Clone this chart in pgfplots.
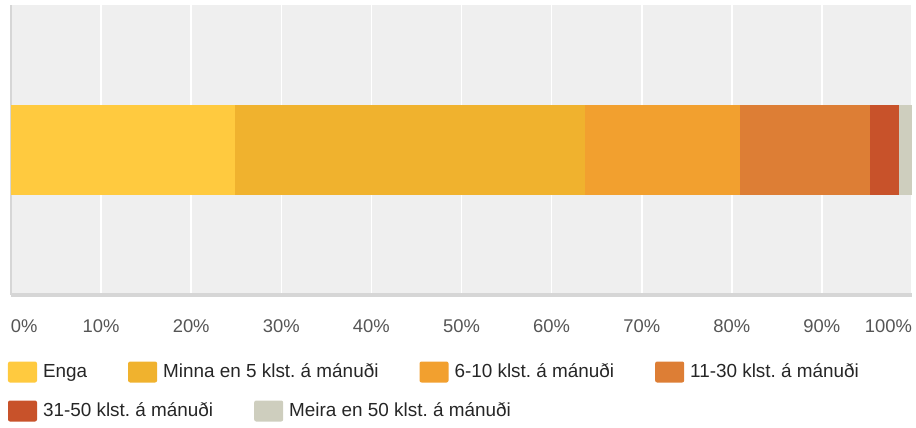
\documentclass[border=0pt]{standalone}
\usepackage{fontspec}
\setmainfont{Liberation Sans}
\usepackage{pgfplots}
\pgfplotsset{compat=1.18}
\definecolor{cA}{HTML}{FFCA3F}
\definecolor{cB}{HTML}{F0B22E}
\definecolor{cC}{HTML}{F2A02F}
\definecolor{cD}{HTML}{DD7E35}
\definecolor{cE}{HTML}{C8522A}
\definecolor{cF}{HTML}{CECEBE}
\definecolor{bg}{HTML}{EFEFEF}
\definecolor{bord}{HTML}{D6D6D6}
\definecolor{tick}{HTML}{555555}
\frenchspacing
\pgfplotsset{
  swatch/.style={every axis plot post/.append style={
    legend image code/.code={\fill[##1, draw=none, rounded corners=1pt] (0pt,-5.25pt) rectangle (14.5pt,5.25pt);}}},
  legrow/.style={legend columns=-1, legend cell align=left,
    legend style={draw=none, fill=none, inner sep=0pt, outer sep=0pt,
      font=\fontsize{9.45}{11}\selectfont, text=black!85,
      column sep=3pt, nodes={inner sep=0pt},
      /tikz/every even column/.append style={column sep=20.5pt},
      at={(0,0)}, anchor=west, xshift=-1.5pt, yshift=#1}},
}
\begin{document}
\begin{tikzpicture}
\begin{axis}[
  at={(0,0)}, anchor=south west,
  scale only axis, width=450.5pt, height=145pt,
  xbar stacked, bar width=45pt,
  xmin=0, xmax=100, ymin=-1, ymax=1,
  ytick=\empty,
  xtick={0,10,...,100},
  xticklabels={\makebox[0pt][l]{0\%},10\%,20\%,30\%,40\%,50\%,60\%,70\%,80\%,90\%,\makebox[0pt][r]{100\%}},
  major tick length=0pt,
  xticklabel style={font=\fontsize{9.2}{11}\selectfont, text=tick},
  xticklabel shift=9pt,
  xmajorgrids, grid style={white, line width=0.8pt},
  axis background/.style={fill=bg},
  axis lines*=left,
  x axis line style={draw=bord, line width=1.6pt},
  y axis line style={draw=bord, line width=1pt},
  swatch, legrow=-38.5pt,
]
\addplot[fill=cA, draw=none] coordinates {(24.9,0)};
\addlegendentry{Enga}
\addplot[fill=cB, draw=none] coordinates {(38.8,0)};
\addlegendentry{Minna en 5 klst. á mánuði}
\addplot[fill=cC, draw=none] coordinates {(17.2,0)};
\addlegendentry{6-10 klst. á mánuði}
\addplot[fill=cD, draw=none] coordinates {(14.4,0)};
\addlegendentry{11-30 klst. á mánuði}
\addplot[fill=cE, draw=none, forget plot] coordinates {(3.3,0)};
\addplot[fill=cF, draw=none, forget plot] coordinates {(1.4,0)};
\end{axis}
\begin{axis}[
  at={(0,0)}, anchor=south west,
  scale only axis, width=450.5pt, height=145pt,
  xmin=0, xmax=100, ymin=-1, ymax=1, hide axis,
  swatch, legrow=-58pt,
  legend image code/.code={\fill[#1, draw=none, rounded corners=1pt] (0pt,-5.25pt) rectangle (14.5pt,5.25pt);},
]
\addlegendimage{fill=cE, draw=none}
\addlegendentry{31-50 klst. á mánuði}
\addlegendimage{fill=cF, draw=none}
\addlegendentry{Meira en 50 klst. á mánuði}
\end{axis}
\pgfresetboundingbox
\useasboundingbox (-5.5pt,-66.5pt) rectangle (452.5pt,147.5pt);
\end{tikzpicture}
\end{document}
